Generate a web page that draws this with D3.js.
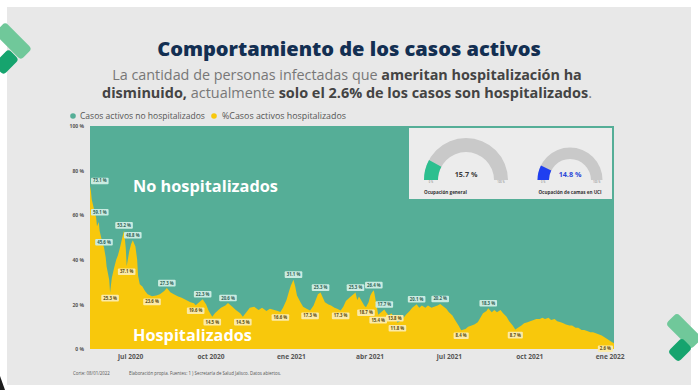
<!DOCTYPE html>
<html><head><meta charset="utf-8">
<script src="https://cdn.jsdelivr.net/npm/d3@7"></script>
<style>body{margin:0;background:#fff}svg{display:block}</style>
</head><body>
<script>
const dates=["2020-05-16","2020-05-17","2020-05-18","2020-05-21","2020-05-23","2020-05-24","2020-05-26","2020-05-27","2020-05-30","2020-06-01","2020-06-03","2020-06-04","2020-06-07","2020-06-08","2020-06-10","2020-06-13","2020-06-15","2020-06-17","2020-06-19","2020-06-22","2020-06-24","2020-06-26","2020-06-27","2020-06-30","2020-07-02","2020-07-04","2020-07-07","2020-07-09","2020-07-10","2020-07-12","2020-07-15","2020-07-18","2020-07-21","2020-07-26","2020-07-31","2020-08-04","2020-08-09","2020-08-12","2020-08-16","2020-08-20","2020-08-25","2020-08-29","2020-09-03","2020-09-08","2020-09-12","2020-09-14","2020-09-18","2020-09-22","2020-09-26","2020-09-29","2020-10-03","2020-10-06","2020-10-10","2020-10-13","2020-10-18","2020-10-21","2020-10-26","2020-10-30","2020-11-04","2020-11-07","2020-11-11","2020-11-15","2020-11-20","2020-11-25","2020-11-29","2020-12-04","2020-12-08","2020-12-13","2020-12-17","2020-12-20","2020-12-23","2020-12-27","2020-12-30","2021-01-01","2021-01-04","2021-01-06","2021-01-08","2021-01-12","2021-01-15","2021-01-19","2021-01-23","2021-01-27","2021-01-30","2021-02-01","2021-02-04","2021-02-06","2021-02-09","2021-02-13","2021-02-16","2021-02-20","2021-02-23","2021-02-27","2021-03-02","2021-03-05","2021-03-09","2021-03-12","2021-03-16","2021-03-18","2021-03-20","2021-03-23","2021-03-26","2021-03-28","2021-03-31","2021-04-02","2021-04-04","2021-04-06","2021-04-09","2021-04-11","2021-04-13","2021-04-16","2021-04-18","2021-04-20","2021-04-23","2021-04-26","2021-04-30","2021-05-01","2021-05-03","2021-05-06","2021-05-10","2021-05-13","2021-05-17","2021-05-20","2021-05-25","2021-05-28","2021-05-31","2021-06-04","2021-06-07","2021-06-11","2021-06-14","2021-06-18","2021-06-21","2021-06-25","2021-06-28","2021-07-01","2021-07-05","2021-07-08","2021-07-12","2021-07-15","2021-07-20","2021-07-23","2021-07-27","2021-07-30","2021-08-03","2021-08-06","2021-08-09","2021-08-13","2021-08-15","2021-08-19","2021-08-22","2021-08-25","2021-08-29","2021-09-01","2021-09-05","2021-09-08","2021-09-12","2021-09-15","2021-09-18","2021-09-22","2021-09-25","2021-09-29","2021-10-02","2021-10-06","2021-10-09","2021-10-13","2021-10-16","2021-10-19","2021-10-23","2021-10-26","2021-10-30","2021-11-02","2021-11-06","2021-11-09","2021-11-12","2021-11-16","2021-11-19","2021-11-23","2021-11-26","2021-11-30","2021-12-03","2021-12-07","2021-12-10","2021-12-13","2021-12-17","2021-12-20","2021-12-23","2021-12-27","2021-12-31","2022-01-03","2022-01-06"];
const values=[73.1,71,67,62,59.1,55,57,53,48,45.6,41,37,31,25.3,32,37,40,42,45,50,53.2,45,37.1,44,47,48.8,46,40,33,29,28,26,24.5,23.6,24,24.5,26,27.3,25.5,24.5,23.5,23,22,21,20.5,19.6,21,22.3,20,17,14.5,16,17.5,18.5,19.5,20.6,19,17.5,16,14.5,16.5,18.5,19,17.5,18.5,17,18,17.5,17,16.6,18.5,22,26,28.5,31.1,28,24,21,19,18,17.3,19.5,22.5,24.5,25.3,23.5,21,20,19.5,18.5,18,17.3,19,21.5,23,24,25.3,22,23.5,21.5,19.5,18.7,21,24,25.5,26.4,20,15.4,16,17,17.7,16.5,15,16,13.8,14.2,11.8,12.5,14,15.5,17,18.5,20.1,18.5,19.5,18.5,19.5,18.5,19,19.5,20.2,19,18,16.5,15,13,10.5,8.4,9,10,10.5,11,12,14,16,17,18.3,16.5,17.5,16.5,17.5,16,14.5,12.5,10.5,8.7,9.5,10.5,11.5,12,12.5,13,13.5,13.5,14,13.5,14,13,13.5,12.5,12,11.5,11,10.5,10.5,9.5,9.5,8.5,8.5,8,7.5,7.5,7,6.5,6,5,4,3.2,2.6];
const labelDates=["2020-05-16","2020-05-23","2020-06-01","2020-06-08","2020-06-24","2020-06-27","2020-07-04","2020-07-26","2020-08-12","2020-09-14","2020-09-22","2020-10-03","2020-10-21","2020-11-07","2020-12-20","2021-01-04","2021-01-23","2021-02-04","2021-02-27","2021-03-16","2021-03-28","2021-04-06","2021-04-11","2021-04-18","2021-04-30","2021-05-03","2021-05-25","2021-06-21","2021-07-15","2021-08-15","2021-09-15","2022-01-06"];
const labelSides=["up","up","up","down","up","down","up","down","up","down","up","down","up","down","down","up","down","up","down","up","down","up","down","up","mid","down","up","up","down","up","down","down"];
const yTicks=[0,20,40,60,80,100];
const xTickDates=["2020-07-01","2020-10-01","2021-01-01","2021-04-01","2021-07-01","2021-10-01","2022-01-01"];
const xTickLabels=["jul 2020","oct 2020","ene 2021","abr 2021","jul 2021","oct 2021","ene 2022"];
const seriesNames=["Casos activos no hospitalizados","%Casos activos hospitalizados"];
const gaugeNames=["Ocupación general","Ocupación de camas en UCI"];
const gaugeValues=[15.7,14.8];

const W=698,H=390;
const TEAL="#55ae97",YEL="#f8c80c";
const parse=d3.timeParse("%Y-%m-%d");
const svg=d3.select("body").append("svg").attr("width",W).attr("height",H);
function fit(sel,w){const L=sel.node().getComputedTextLength();const fs=parseFloat(sel.attr("font-size"));sel.attr("font-size",fs*w/L);}

svg.append("rect").attr("width",W).attr("height",H).attr("fill","#fff");
svg.append("rect").attr("x",7).attr("y",7).attr("width",684).attr("height",378).attr("fill","#e8e8e8");

// decorations
function chev(cx,cy,len,wid,ang,col){svg.append("rect").attr("x",-len/2).attr("y",-wid/2).attr("width",len).attr("height",wid).attr("rx",4)
 .attr("fill",col).attr("transform",`translate(${cx},${cy}) rotate(${ang})`);}
chev(13,41,38,16,45,"#70c89a");chev(6,62,22,15,-45,"#16a46e");
chev(684,331,36,16,45,"#70c89a");chev(680,350,20,15,-45,"#16a46e");
svg.append("path").attr("d","M0,376L5,390L0,390Z").attr("fill","#1c1c1c");

// title
const t=svg.append("text").attr("x",349).attr("y",56).attr("text-anchor","middle").attr("font-family","Open Sans").attr("font-weight",800)
 .attr("font-size",20).attr("fill","#132f52").text("Comportamiento de los casos activos");fit(t,384);
function sub(y,parts,w){const s=svg.append("text").attr("x",347).attr("y",y).attr("text-anchor","middle").attr("font-family","Open Sans").attr("font-size",14);
 parts.forEach(p=>s.append("tspan").attr("font-weight",p[1]?700:400).attr("fill",p[1]?"#444":"#777").text(p[0]));fit(s,w);}
sub(80,[["La cantidad de personas infectadas que ",0],["ameritan hospitalización ha",1]],470);
sub(98,[["disminuido,",1],[" actualmente ",0],["solo el 2.6% de los casos son hospitalizados",1],[".",0]],490);

// legend
const lg=[[73,TEAL,80,seriesNames[0],125],[214,YEL,222,seriesNames[1],124]];
lg.forEach(l=>{svg.append("circle").attr("cx",l[0]).attr("cy",116).attr("r",2.8).attr("fill",l[1]);
 svg.append("text").attr("x",l[2]).attr("y",118.7).attr("font-family","Open Sans").attr("font-size",7.6).attr("fill","#555").text(l[3]).call(s=>fit(s,l[4]));});

// scales
const x=d3.scaleTime().domain([parse(dates[0]),parse(dates[dates.length-1])]).range([90,614]);
const y=d3.scaleLinear().domain([0,100]).range([349,126]);
const data=dates.map((d,i)=>({d:parse(d),v:values[i]}));

svg.append("rect").attr("x",x.range()[0]).attr("y",y(100)).attr("width",x.range()[1]-x.range()[0]).attr("height",y(0)-y(100)).attr("fill",TEAL);
svg.append("path").datum(data).attr("fill",YEL).attr("d",d3.area().x(d=>x(d.d)).y0(y(0)).y1(d=>y(d.v)));

// axes
const ya=svg.append("g").attr("transform","translate(84,0)").call(d3.axisLeft(y).tickValues(yTicks).tickSize(0).tickPadding(0).tickFormat(d=>d+" %"));
ya.select(".domain").remove();
ya.selectAll("text").attr("font-family","Open Sans").attr("font-weight",700).attr("font-size",5).attr("fill","#555");
const xa=svg.append("g").attr("transform","translate(0,351)").call(d3.axisBottom(x).tickValues(xTickDates.map(parse)).tickSize(0).tickPadding(3).tickFormat((d,i)=>xTickLabels[i]));
xa.select(".domain").remove();
xa.selectAll("text").attr("font-family","Open Sans").attr("font-weight",700).attr("font-size",6.6).attr("fill","#555");

// big labels
svg.append("text").attr("x",133).attr("y",192).attr("font-family","Open Sans").attr("font-weight",700).attr("font-size",16).attr("fill","#fff").text("No hospitalizados").call(s=>fit(s,145));
svg.append("text").attr("x",133).attr("y",341).attr("font-family","Open Sans").attr("font-weight",700).attr("font-size",16).attr("fill","#fff").text("Hospitalizados").call(s=>fit(s,119));

// value labels
const fmt=d3.format(".1f");
labelDates.forEach((ld,i)=>{const idx=dates.indexOf(ld);const v=values[idx];const side=labelSides[i];const up=side==="up";
 const g=svg.append("g");
 const tx=g.append("text").attr("text-anchor","middle").attr("font-family","Open Sans").attr("font-weight",700).attr("font-size",4.3)
  .attr("fill",up?"#2f5f55":"#5a4a10").text(fmt(v)+" %");
 const w=tx.node().getComputedTextLength()+4,h=6.6;
 let cx=x(parse(ld));cx=Math.max(x.range()[0]+w/2+1,Math.min(x.range()[1]-w/2-1,cx));
 const cy=y(v)+(up?-5:side==="mid"?0:5.5);
 g.insert("rect","text").attr("x",cx-w/2).attr("y",cy-h/2).attr("width",w).attr("height",h).attr("rx",1)
  .attr("fill",up?"#c9ebe1":"#fbeaa8");
 tx.attr("x",cx).attr("y",cy+1.5);
});

// gauge panel
svg.append("rect").attr("x",409).attr("y",128).attr("width",203).attr("height",71).attr("fill","#ececec");
const gauges=[{cx:466,cy:180,ro:42,ri:28,col:"#2cbf8f",tc:"#3a3a3a"},{cx:570,cy:180,ro:32.5,ri:21,col:"#1f3ff0",tc:"#2a48d8"}];
gauges.forEach((gd,i)=>{const g=svg.append("g").attr("transform",`translate(${gd.cx},${gd.cy})`);
 const arc=d3.arc().innerRadius(gd.ri).outerRadius(gd.ro);
 g.append("path").attr("d",arc({startAngle:-Math.PI/2,endAngle:Math.PI/2})).attr("fill","#c9c9c9");
 g.append("path").attr("d",arc({startAngle:-Math.PI/2,endAngle:-Math.PI/2+Math.PI*gaugeValues[i]/100})).attr("fill",gd.col);
 g.append("text").attr("y",-3).attr("text-anchor","middle").attr("font-family","Open Sans").attr("font-weight",700).attr("font-size",7.2).attr("fill",gd.tc).text(fmt(gaugeValues[i])+" %");
 g.append("text").attr("x",-(gd.ro+gd.ri)/2).attr("y",3).attr("text-anchor","middle").attr("font-family","Open Sans").attr("font-size",2.6).attr("fill","#777").text("0 %");
 g.append("text").attr("x",(gd.ro+gd.ri)/2).attr("y",3).attr("text-anchor","middle").attr("font-family","Open Sans").attr("font-size",2.6).attr("fill","#777").text("100 %");
 g.append("text").attr("x",i===0?-gd.ro:0).attr("y",14).attr("text-anchor",i===0?"start":"middle").attr("font-family","Open Sans").attr("font-weight",700).attr("font-size",4.6).attr("fill","#333").text(gaugeNames[i]);
});

// footer
svg.append("text").attr("x",73).attr("y",375).attr("font-family","Open Sans").attr("font-size",4.4).attr("fill","#555").text("Corte: 08/01/2022");
svg.append("text").attr("x",129).attr("y",375).attr("font-family","Open Sans").attr("font-size",4.4).attr("fill","#555").text("Elaboración propia.   Fuentes:   1 ) Secretaría de Salud Jalisco.  Datos abiertos.");
</script>
</body></html>
